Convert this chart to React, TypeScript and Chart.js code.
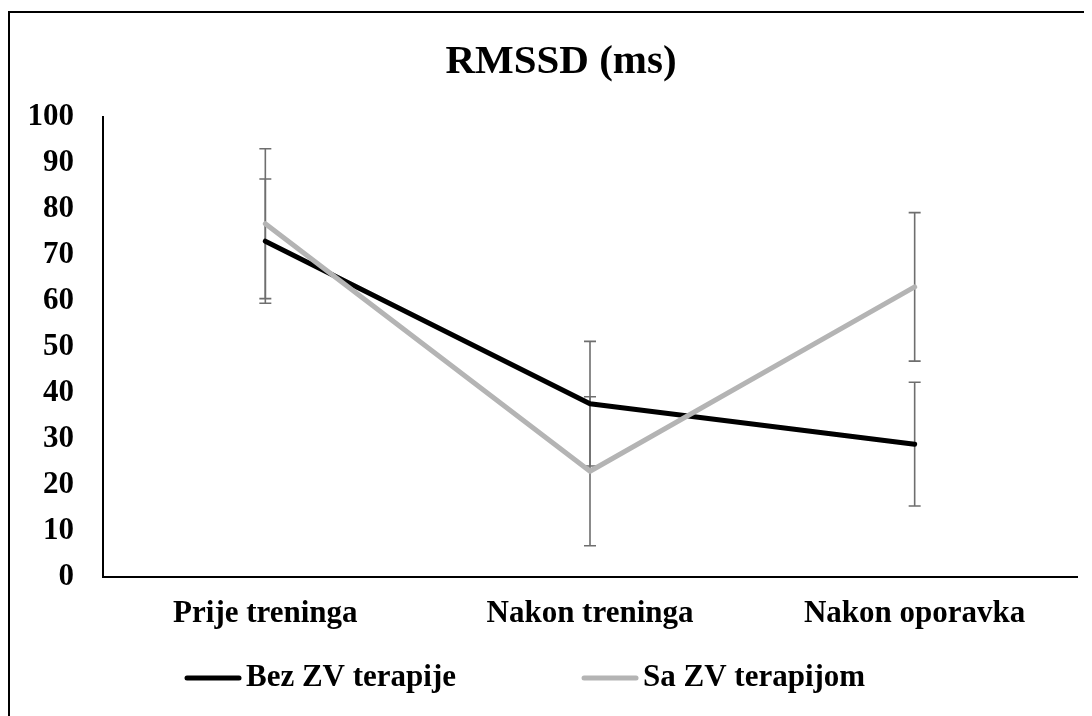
import React, { useEffect, useRef } from "react";
import { Chart, registerables } from "chart.js";

Chart.register(...registerables);

const categories = ["Prije treninga", "Nakon treninga", "Nakon oporavka"];
const bezLabel = "Bez ZV terapije";
const saLabel = "Sa ZV terapijom";
const bezValues = [73, 37.65, 28.85];
const bezErrors = [13.5, 13.55, 13.45];
const saValues = [76.8, 22.95, 63.05];
const saErrors = [16.3, 16.2, 16.15];
const yTicks = [0, 10, 20, 30, 40, 50, 60, 70, 80, 90, 100];
const titleText = "RMSSD (ms)";

const FONT = "'Liberation Serif', 'Times New Roman', serif";
const BLACK = "#000000";
const GRAY = "#b4b4b4";
const ERR = "#6e6e6e";

const errorBarPlugin = {
  id: "errorBars",
  beforeDatasetsDraw(chart: any) {
    const ctx = chart.ctx;
    const x = chart.scales.x;
    const y = chart.scales.y;
    const sets = [
      { v: bezValues, e: bezErrors },
      { v: saValues, e: saErrors },
    ];
    ctx.save();
    ctx.strokeStyle = ERR;
    ctx.lineWidth = 1.6;
    sets.forEach((s) => {
      s.v.forEach((val, i) => {
        const px = x.getPixelForValue(i);
        const top = y.getPixelForValue(val + s.e[i]);
        const bot = y.getPixelForValue(val - s.e[i]);
        ctx.beginPath();
        ctx.moveTo(px, top);
        ctx.lineTo(px, bot);
        ctx.moveTo(px - 6, top);
        ctx.lineTo(px + 6, top);
        ctx.moveTo(px - 6, bot);
        ctx.lineTo(px + 6, bot);
        ctx.stroke();
      });
    });
    ctx.restore();
  },
};

const titlePlugin = {
  id: "customTitle",
  afterDraw(chart: any) {
    const ctx = chart.ctx;
    ctx.save();
    ctx.font = `bold 41px ${FONT}`;
    ctx.textBaseline = "middle";
    ctx.textAlign = "center";
    ctx.fillStyle = "#000";
    ctx.fillText(titleText, chart.width / 2 + 10, 49);
    ctx.restore();
  },
};

const legendPlugin = {
  id: "customLegend",
  afterDraw(chart: any) {
    const ctx = chart.ctx;
    const area = chart.chartArea;
    ctx.save();
    ctx.font = `bold 31px ${FONT}`;
    ctx.textBaseline = "middle";
    ctx.fillStyle = "#000";
    const yc = 665;
    let xs = area.left + 82;
    const sampleW = 56;
    const gap = 5;
    const spacing = 126;
    chart.data.datasets.forEach((ds: any) => {
      ctx.strokeStyle = ds.borderColor;
      ctx.lineWidth = 5;
      ctx.lineCap = "round";
      ctx.beginPath();
      ctx.moveTo(xs + 2, yc);
      ctx.lineTo(xs + sampleW - 2, yc);
      ctx.stroke();
      ctx.fillText(ds.label, xs + sampleW + gap, yc);
      const w = ctx.measureText(ds.label).width;
      xs += sampleW + gap + w + spacing;
    });
    ctx.restore();
  },
};

export default function App() {
  const ref = useRef<HTMLCanvasElement>(null);
  useEffect(() => {
    if (!ref.current) return;
    const chart = new Chart(ref.current, {
      type: "line",
      data: {
        labels: categories,
        datasets: [
          {
            label: bezLabel,
            data: bezValues,
            borderColor: BLACK,
            backgroundColor: BLACK,
            borderWidth: 5,
            pointRadius: 0,
            tension: 0,
            borderJoinStyle: "round",
            borderCapStyle: "round",
            order: 1,
          },
          {
            label: saLabel,
            data: saValues,
            borderColor: GRAY,
            backgroundColor: GRAY,
            borderWidth: 5,
            pointRadius: 0,
            tension: 0,
            borderJoinStyle: "round",
            borderCapStyle: "round",
            order: 0,
          },
        ],
      },
      options: {
        animation: false,
        responsive: false,
        maintainAspectRatio: false,
        layout: { padding: { left: 18, right: 15, top: 104, bottom: 64 } },
        plugins: {
          legend: { display: false },
          tooltip: { enabled: false },
          title: { display: false },
        },
        scales: {
          x: {
            type: "category",
            offset: true,
            grid: { display: false, drawTicks: false },
            border: { display: true, color: "#000", width: 2 },
            ticks: {
              color: "#000",
              padding: 19,
              font: { family: FONT, size: 31, weight: "bold" },
              maxRotation: 0,
            },
          },
          y: {
            min: 0,
            max: 100,
            afterBuildTicks: (axis: any) => {
              axis.ticks = yTicks.map((v) => ({ value: v }));
            },
            afterFit: (axis: any) => {
              axis.width = 75;
            },
            grid: { display: false, drawTicks: false },
            border: { display: true, color: "#000", width: 2 },
            ticks: {
              color: "#000",
              padding: 29,
              font: { family: FONT, size: 31, weight: "bold" },
            },
          },
        },
      },
      plugins: [errorBarPlugin, titlePlugin, legendPlugin],
    });
    return () => chart.destroy();
  }, []);
  return (
    <div
      style={{
        marginTop: 3,
        width: 1084,
        height: 705,
        boxSizing: "border-box",
        borderTop: "2px solid #000",
        borderLeft: "2px solid #000",
        overflow: "hidden",
      }}
    >
      <canvas ref={ref} width={1082} height={703} style={{ display: "block" }} />
    </div>
  );
}
